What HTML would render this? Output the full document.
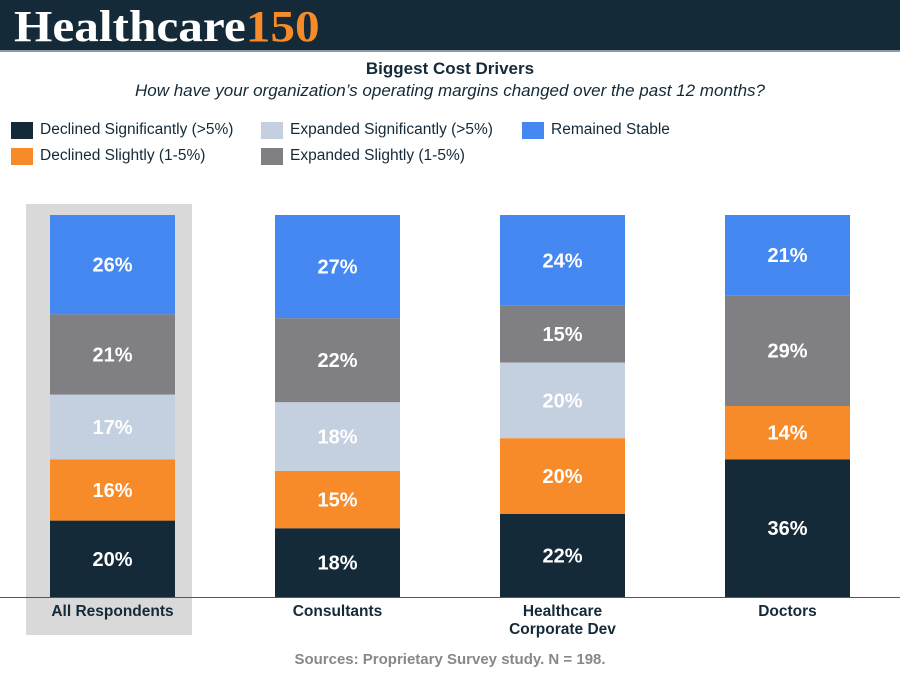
<!DOCTYPE html>
<html><head><meta charset="utf-8"><style>
body{margin:0;width:900px;height:675px;background:#fff;font-family:"Liberation Sans",sans-serif;overflow:hidden;position:relative}
.hdr{position:absolute;left:0;top:0;width:900px;height:50px;background:#142a38;border-bottom:2px solid #8a9aa6}
.logo{position:absolute;left:14px;top:1px;font-family:"Liberation Serif",serif;font-weight:bold;font-size:44px;color:#fff;letter-spacing:0px;transform:scaleX(1.12);transform-origin:0 0;white-space:nowrap}
.logo span{color:#f78b2a}
.title{position:absolute;top:59px;width:900px;text-align:center;font-weight:bold;font-size:17px;color:#142a38}
.sub{position:absolute;top:81px;width:900px;text-align:center;font-style:italic;font-size:17px;color:#142a38}
.leg{position:absolute;font-size:15.5px;color:#142a38;white-space:nowrap}
.leg i{position:absolute;left:-29px;top:1px;width:22px;height:17px}
.src{position:absolute;top:651px;width:900px;text-align:center;font-weight:bold;font-size:15px;color:#888}
</style></head><body>
<div class="hdr"><div class="logo">Healthcare<span>150</span></div></div>
<div class="title">Biggest Cost Drivers</div>
<div class="sub">How have your organization’s operating margins changed over the past 12 months?</div>
<div class="leg" style="left:40px;top:121px"><i style="background:#142a38"></i>Declined Significantly (&gt;5%)</div>
<div class="leg" style="left:40px;top:147px"><i style="background:#f78b2a"></i>Declined Slightly (1-5%)</div>
<div class="leg" style="left:290px;top:121px"><i style="background:#c4cfdf"></i>Expanded Significantly (&gt;5%)</div>
<div class="leg" style="left:290px;top:147px"><i style="background:#808084"></i>Expanded Slightly (1-5%)</div>
<div class="leg" style="left:551px;top:121px"><i style="background:#4688f1"></i>Remained Stable</div>
<svg id="chart" width="900" height="675" style="position:absolute;left:0;top:0"></svg>
<div class="src">Sources: Proprietary Survey study. N = 198.</div>
<script>
const categories=["All Respondents","Consultants","Healthcare|Corporate Dev","Doctors"];
const declinedSig=[20,18,22,36];
const declinedSlight=[16,15,20,14];
const expandedSig=[17,18,20,0];
const expandedSlight=[21,22,15,29];
const stable=[26,27,24,21];
const series=[declinedSig,declinedSlight,expandedSig,expandedSlight,stable];
const seriesNames=["declined-significantly","declined-slightly","expanded-significantly","expanded-slightly","remained-stable"];
const colors=["#142a38","#f78b2a","#c4cfdf","#808084","#4688f1"];
const NS="http://www.w3.org/2000/svg";
const svg=document.getElementById('chart');
const baseY=597,topY=215,barW=125;
function xPos(i){return 50+i*225;}
function yScale(v,total){return (baseY-topY)*v/total;}
function mk(t,a){const e=document.createElementNS(NS,t);for(const k in a)e.setAttribute(k,a[k]);svg.appendChild(e);return e;}
const hl=mk('rect',{x:26,y:204,width:166,height:431,fill:'#d9d9d9'});


categories.forEach((c,i)=>{
  let total=0;series.forEach(s=>total+=s[i]);
  let y=baseY;
  series.forEach((s,j)=>{
    const h=yScale(s[i],total);
    if(h<=0)return;
    y-=h;
    const r=mk('rect',{x:xPos(i),y:y,width:barW,height:h,fill:colors[j]});
    
    
    const t=mk('text',{x:xPos(i)+barW/2,y:y+h/2+7,'text-anchor':'middle','font-size':'20','font-weight':'bold',fill:'#fff','font-family':'Liberation Sans, sans-serif'});
    t.textContent=s[i]+'%';
    
    
  });
  c.split('|').forEach((ln,k)=>{
    const t=mk('text',{x:xPos(i)+barW/2,y:616+k*18,'text-anchor':'middle','font-size':'15.5','font-weight':'bold',fill:'#142a38','font-family':'Liberation Sans, sans-serif'});
    t.textContent=ln;
    
    
  });
});
const ax=mk('line',{x1:0,x2:900,y1:597.5,y2:597.5,stroke:'#555','stroke-width':1});


</script>
</body></html>
